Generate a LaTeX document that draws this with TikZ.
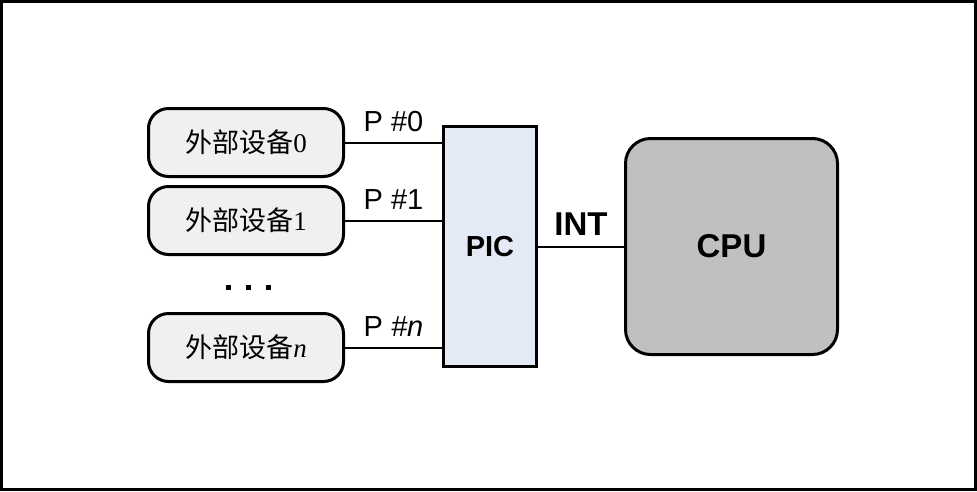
\documentclass[tikz,border=0pt]{standalone}
\usepackage{fontspec}
\setmainfont{Liberation Serif}
\setsansfont{Liberation Sans}
\newfontfamily\cjk{Noto Sans CJK SC}
\definecolor{devgray}{HTML}{F0F0F0}
\definecolor{picblue}{HTML}{E3EAF5}
\definecolor{cpugray}{HTML}{C0C0C0}

\tikzset{
  device/.style={rectangle, rounded corners=20pt, draw, line width=3pt, fill=devgray,
    minimum width=195pt, minimum height=68pt, inner sep=0pt, font=\fontsize{27}{30}\selectfont},
  wire/.style={line width=2pt},
  portlabel/.style={above=10pt, inner sep=0pt, font=\sffamily\fontsize{29}{32}\selectfont},
}

\begin{document}
\begin{tikzpicture}[x=1pt, y=-1pt]
      \useasboundingbox (0,0) rectangle (977,491);
      \draw[line width=2.5pt] (1.5,1.5) rectangle (975.5,489.5);

      \node[device] (dev0) at (246,142.5) {{\cjk 外部设备}0};
      \node[device] (dev1) at (246,220.5) {{\cjk 外部设备}1};
      \node[device] (devn) at (246,347.5) {{\cjk 外部设备}\textit{n}};

      \node[rectangle, draw, line width=3pt, fill=picblue, minimum width=93pt, minimum height=240pt,
        font=\sffamily\bfseries\fontsize{29}{32}\selectfont] (pic) at (490,246.5) {PIC};
      \node[rectangle, rounded corners=25pt, draw, line width=3pt, fill=cpugray, minimum width=212pt,
        minimum height=216pt, font=\sffamily\bfseries\fontsize{33}{36}\selectfont] (cpu) at (731.5,246.5) {CPU};

      % dots between device 1 and device n
      \foreach \x in {228,248,268}
        \fill (\x-2.5,284.5) rectangle +(5,5);

      \draw[wire] (dev0.east) -- (dev0.east -| pic.west) node[portlabel, midway] {P \#0};
      \draw[wire] (dev1.east) -- (dev1.east -| pic.west) node[portlabel, midway] {P \#1};
      \draw[wire] (devn.east) -- (devn.east -| pic.west) node[portlabel, midway] {P \textit{\#n}};
      \draw[wire] (pic.east) -- (cpu.west) node[portlabel, midway, font=\sffamily\bfseries\fontsize{33}{36}\selectfont] {INT};
\end{tikzpicture}
\end{document}
